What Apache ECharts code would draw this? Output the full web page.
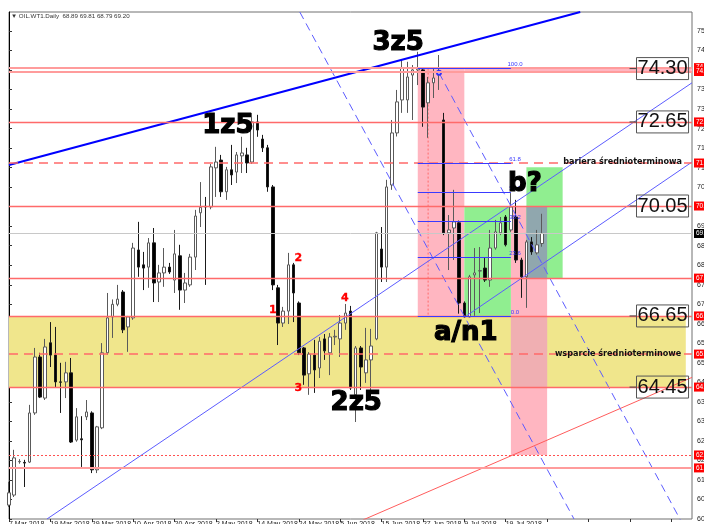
<!DOCTYPE html>
<html>
<head>
<meta charset="utf-8">
<title>OIL.WT1 Daily</title>
<script src="https://cdn.jsdelivr.net/npm/echarts@6/dist/echarts.min.js"></script>
<style>
  html, body { margin: 0; padding: 0; background: #fff; }
  #chart { width: 704px; height: 524px; }
</style>
</head>
<body>
<div id="chart"></div>
<script>
// swiece dzienne [open, high, low, close], indeks = numer swiecy
var ohlc = [
  [60.80, 61.52, 60.74, 61.18], [61.11, 62.51, 61.05, 62.26], [62.14, 62.22, 62.08, 62.15], [62.12, 62.20, 61.36, 62.10],
  [62.13, 63.90, 62.10, 63.65], [63.65, 65.66, 63.59, 65.38], [65.38, 65.51, 64.11, 64.14], [64.11, 65.94, 64.05, 65.69],
  [65.82, 66.46, 65.07, 65.44], [65.44, 66.31, 64.45, 64.61], [64.61, 65.20, 63.65, 64.60], [64.61, 65.23, 64.11, 64.89],
  [64.89, 65.35, 62.72, 62.75], [62.81, 63.80, 62.76, 63.53], [62.85, 63.55, 61.98, 62.82], [63.53, 64.05, 63.43, 63.68],
  [63.65, 63.70, 61.79, 61.89], [61.89, 63.25, 61.79, 63.22], [63.19, 65.81, 63.15, 65.51], [65.51, 67.36, 65.45, 66.59],
  [66.62, 67.16, 65.97, 67.01], [67.01, 67.61, 66.95, 67.17], [67.39, 67.45, 66.12, 66.22], [66.31, 66.65, 65.54, 66.62],
  [66.59, 68.91, 66.53, 68.75], [68.69, 69.56, 67.86, 68.16], [68.23, 68.63, 67.45, 68.13], [68.16, 69.06, 67.52, 68.91],
  [68.91, 69.37, 67.08, 67.67], [67.70, 68.23, 67.08, 67.98], [67.98, 68.75, 67.55, 68.16], [68.16, 68.29, 67.95, 68.01],
  [67.76, 69.31, 67.36, 68.57], [68.51, 68.85, 66.84, 67.45], [67.45, 67.98, 67.05, 67.67], [67.61, 68.57, 67.55, 68.47],
  [68.47, 69.93, 68.07, 69.74], [69.84, 70.79, 69.40, 70.01], [70.04, 70.33, 67.61, 70.02], [70.02, 71.35, 69.95, 71.26],
  [71.23, 71.88, 70.33, 71.41], [71.47, 71.63, 70.33, 70.49], [70.49, 71.26, 70.24, 71.17], [71.17, 71.94, 70.70, 71.01],
  [71.10, 71.72, 70.76, 71.63], [71.60, 72.19, 71.07, 71.69], [71.63, 71.85, 71.07, 71.38], [71.41, 72.93, 71.35, 72.65],
  [72.65, 72.87, 72.19, 72.40], [72.12, 72.25, 71.72, 71.85], [71.85, 71.94, 70.49, 70.64], [70.64, 70.70, 67.45, 67.61],
  [67.52, 67.61, 65.75, 66.43], [66.43, 66.93, 66.31, 66.80], [66.80, 68.60, 66.40, 68.23], [68.23, 68.29, 66.46, 67.36],
  [67.05, 67.10, 65.44, 65.51], [65.66, 65.69, 64.52, 64.82], [64.86, 65.53, 64.21, 65.47], [65.44, 65.91, 64.27, 64.98],
  [65.04, 66.00, 64.73, 65.87], [65.94, 66.09, 65.29, 65.57], [65.51, 66.12, 64.82, 66.00], [66.00, 66.22, 65.75, 66.02],
  [65.94, 66.68, 65.38, 66.43], [66.43, 67.02, 66.22, 66.74], [66.80, 66.96, 64.36, 64.42], [64.21, 65.72, 63.37, 65.66],
  [65.66, 65.72, 64.36, 65.07], [64.89, 66.28, 64.58, 65.29], [65.29, 66.25, 64.27, 65.72], [65.94, 69.25, 65.90, 69.22],
  [68.72, 69.40, 67.70, 68.16], [68.16, 70.86, 67.70, 70.64], [70.70, 72.71, 70.55, 72.31], [72.31, 73.64, 72.20, 73.27],
  [73.33, 74.57, 72.93, 74.32], [73.33, 74.51, 72.93, 74.04], [74.10, 74.41, 72.71, 74.26], [74.26, 74.82, 73.79, 74.32],
  [74.26, 74.32, 72.50, 73.11], [73.24, 74.04, 72.16, 73.86], [73.86, 74.32, 73.39, 74.01], [74.10, 74.72, 73.64, 74.20],
  [72.71, 72.93, 69.15, 69.22], [69.22, 69.77, 68.07, 69.31], [69.37, 70.55, 68.38, 69.56], [69.53, 69.60, 66.72, 67.05],
  [67.05, 67.10, 66.60, 66.62], [66.62, 67.92, 66.60, 67.86], [67.92, 68.75, 66.62, 67.98], [68.04, 68.78, 66.74, 68.05],
  [68.13, 68.44, 67.70, 67.76], [67.76, 69.31, 67.55, 68.75], [68.75, 69.62, 68.70, 69.25], [69.22, 69.71, 69.15, 69.53],
  [69.71, 69.77, 68.80, 68.85], [69.31, 70.45, 69.25, 70.02], [69.71, 70.24, 68.29, 68.38], [68.38, 68.45, 67.21, 67.86],
  [67.86, 69.00, 66.90, 68.94], [68.94, 69.09, 68.54, 68.63], [68.60, 69.31, 68.55, 68.85], [68.89, 69.81, 68.79, 69.20]
];

// daty pod osia (co 8 swiec)
var xTickLabels = ['7 Mar 2018', '19 Mar 2018', '29 Mar 2018', '10 Apr 2018', '20 Apr 2018', '2 May 2018', '14 May 2018',
  '24 May 2018', '5 Jun 2018', '15 Jun 2018', '27 Jun 2018', '9 Jul 2018', '19 Jul 2018'];

// poziomy
var keyLevels = [74.33, 74.21, 72.65, 70.05, 67.82, 66.65, 64.45, 61.95];
var midTermLevels = [71.38, 65.47];
var targetLevel = 62.35;
var bidPrice = 69.20;
var boxLevels = [74.30, 72.65, 70.05, 66.65, 64.45];

// fibo
var fibNames = ['0.0', '23.6', '38.2', '50.0', '61.8', '100.0'];
var fibPrices = [66.65, 68.46, 69.57, 70.48, 71.38, 74.30];
var fibSpan = [79, 97];

// prostokaty [i0, i1, cena gora, cena dol]
var supportZone = [0, 130.8, 66.65, 64.45];
var pinkZones = [[79, 88, 74.30, 66.65], [97, 104, 70.05, 62.35], [88, 132, 74.33, 74.21]];
var greenZones = [[88, 97, 70.05, 66.65], [100, 107, 71.25, 67.82]];

// linie trendu [[i, cena], [i, cena]]
var trendTop = [[0, 71.32], [110.4, 76.05]];
var channelLow = [[7.34, 60.37], [132, 73.86]];
var channelUp = [[88.1, 66.62], [132, 71.41]];
var projRed = [[68.4, 60.34], [132, 64.75]];
var fallA = [[56.2, 76.05], [109.2, 60.37]];
var fallB = [[83.1, 74.17], [130.2, 60.21]];
var fibVertical = [[81, 74.30], [81, 66.65]];

// opisy [i, cena, tekst]
var waveMarks = [[42.3, 72.53, '1z5'], [75.2, 75.09, '3z5'], [67.1, 63.96, '2z5'], [88.3, 66.12, 'a/n1'], [99.7, 70.73, 'b?']];
var subWaveMarks = [[51.0, 66.83, '1'], [55.9, 68.44, '2'], [55.9, 64.42, '3'], [64.9, 67.21, '4']];
var levelNotes = [[107.1, 71.41, 'bariera średnioterminowa'], [105.5, 65.47, 'wsparcie średnioterminowe']];
var boxAt = 120.6;

var candleData = ohlc.map(function (d, i) { return [i, d[0], d[3], d[2], d[1]]; });

function area(z, color) {
  return [{ coord: [z[0], z[2]], itemStyle: { color: color } }, { coord: [z[1], z[3]] }];
}
// czesc wspolna dwoch prostokatow (MT4 rysuje ja jak XOR kolorow)
function overlap(a, b) {
  var i0 = Math.max(a[0], b[0]), i1 = Math.min(a[1], b[1]);
  var top = Math.min(a[2], b[2]), bot = Math.max(a[3], b[3]);
  return (i1 > i0 && top > bot) ? [i0, i1, top, bot] : null;
}

var areas = [area(supportZone, '#f0e68c')];
pinkZones.forEach(function (z) { areas.push(area(z, '#ffb6c1')); });
greenZones.forEach(function (z) { areas.push(area(z, '#90ee90')); });
pinkZones.forEach(function (p) {
  greenZones.forEach(function (g) { var o = overlap(p, g); if (o) areas.push(area(o, '#90a7ae')); });
  var y = overlap(p, supportZone); if (y) areas.push(area(y, '#f0afb2'));
});

function hLine(v, style, labelBg) {
  return {
    yAxis: v, lineStyle: style,
    label: { show: true, position: 'end', distance: 2, formatter: v.toFixed(2), color: '#fff',
      backgroundColor: labelBg, fontSize: 6.5, padding: [1, 2], fontFamily: 'Liberation Sans' }
  };
}
var hLines = [];
keyLevels.forEach(function (v) {
  var soft = v > 74 || v < 62.2;
  hLines.push(hLine(v, { color: soft ? '#ff9c9c' : '#ff6a6a', width: soft ? 2 : 1.3, type: 'solid' }, '#ff0000'));
});
midTermLevels.forEach(function (v) { hLines.push(hLine(v, { color: '#ff6a6a', width: 1.5, type: [9, 6] }, '#ff0000')); });
hLines.push(hLine(targetLevel, { color: '#ff5050', width: 1, type: [2, 2] }, '#ff0000'));
hLines.push(hLine(bidPrice, { color: '#c8c8c8', width: 1, type: 'solid' }, '#000000'));

var fibLines = fibPrices.map(function (p) {
  return [{ coord: [fibSpan[0], p] }, { coord: [fibSpan[1], p] }];
});
var fibLabels = fibPrices.map(function (p, k) { return { value: [fibSpan[1] + 0.8, p], name: fibNames[k] }; });

function trend(pts, color, width, type, z) {
  return { type: 'line', data: pts, symbol: 'none', silent: true, z: z || 4, animation: false,
    lineStyle: { color: color, width: width, type: type } };
}
var fallBSeries = trend(fallB, '#5c5cff', 1, [8, 5]);
fallBSeries.showSymbol = true;
fallBSeries.data = [{ value: fallB[0], symbol: 'emptyCircle', symbolSize: 4, itemStyle: { color: '#3030ff' } }, fallB[1]];

function textSeries(rows, label, z) {
  return { type: 'scatter', symbolSize: 0, silent: true, z: z || 6, animation: false,
    itemStyle: { opacity: 1 },
    data: rows.map(function (r) { return { value: [r[0], r[1]], name: r[2] }; }),
    label: Object.assign({ show: true, formatter: '{b}' }, label) };
}

var chart = echarts.init(document.getElementById('chart'));
chart.setOption({
  animation: false,
  title: {
    text: '\u25BC OIL.WT1.Daily  68.89 69.81 68.79 69.20',
    left: 11, top: 13, padding: 0,
    textStyle: { fontSize: 6.2, fontWeight: 'normal', color: '#333', fontFamily: 'Liberation Sans' }
  },
  grid: { left: 9, right: 12, top: 12, bottom: 5, show: true, borderColor: '#707070', borderWidth: 1,
    outerBoundsMode: 'none', containLabel: false },
  xAxis: {
    type: 'value', min: 0, max: 132, interval: 8,
    splitLine: { show: false },
    axisLine: { show: false },
    axisTick: { show: true, length: 3, lineStyle: { color: '#333' } },
    axisLabel: {
      margin: 2, fontSize: 7, color: '#222', align: 'left', fontFamily: 'Liberation Sans',
      showMaxLabel: false,
      formatter: function (v) { return xTickLabels[v / 8] || ''; }
    }
  },
  yAxis: {
    type: 'value', position: 'right', min: 60.37, max: 76.05, interval: 0.6037,
    splitLine: { show: false },
    axisLine: { show: true, lineStyle: { color: '#000' } },
    axisTick: { show: true, length: 3, lineStyle: { color: '#333' } },
    axisLabel: {
      margin: 5, fontSize: 7, color: '#222', fontFamily: 'Liberation Sans', showMaxLabel: false,
      formatter: function (v) { return v.toFixed(2); }
    }
  },
  series: [
    {
      // tlo: strefy
      type: 'line', data: [], z: 1, silent: true,
      markArea: { silent: true, data: areas }
    },
    {
      // poziomy cenowe
      type: 'line', data: [], z: 2, silent: true,
      markLine: { silent: true, symbol: ['none', 'none'], data: hLines }
    },
    {
      type: 'candlestick', z: 3, silent: true, barWidth: 3,
      encode: { x: 0, y: [1, 2, 3, 4] },
      data: candleData,
      itemStyle: { color: '#ffffff', borderColor: '#5a5a5a', color0: '#000000', borderColor0: '#1a1a1a', borderWidth: 1 }
    },
    {
      // fibo
      type: 'line', data: [], z: 4, silent: true,
      markLine: { silent: true, symbol: ['none', 'none'], label: { show: false },
        lineStyle: { color: '#3a3aff', width: 1, type: 'solid' }, data: fibLines }
    },
    {
      type: 'scatter', symbolSize: 0, z: 5, silent: true, data: fibLabels, itemStyle: { opacity: 1 },
      label: { show: true, position: 'top', distance: 1, formatter: '{b}', fontSize: 6, color: '#3a3aff',
        fontFamily: 'Liberation Sans' }
    },
    trend(trendTop, '#0000ff', 2, 'solid'),
    trend(channelLow, '#5c5cff', 1, 'solid'),
    trend(channelUp, '#5c5cff', 1, 'solid'),
    trend(projRed, '#ff5c5c', 1, 'solid'),
    trend(fallA, '#5c5cff', 1, [8, 5]),
    fallBSeries,
    trend(fibVertical, '#ff6a6a', 1, [2, 2], 2),
    textSeries(waveMarks, { position: 'inside', fontSize: 26, fontWeight: 'bold', color: '#000',
      textBorderColor: '#000', textBorderWidth: 1.2, fontFamily: 'DejaVu Sans' }),
    textSeries(subWaveMarks, { position: 'inside', fontSize: 11, fontWeight: 'bold', color: '#ff0000',
      textBorderColor: '#ff0000', textBorderWidth: 0.3, fontFamily: 'DejaVu Sans' }),
    textSeries(levelNotes, { position: 'right', distance: 0, fontSize: 8.1, fontWeight: 'bold', color: '#111',
      textBorderWidth: 0, fontFamily: 'DejaVu Sans' }),
    {
      // ramki z cenami
      type: 'scatter', symbol: 'rect', symbolSize: [7, 1], z: 6, silent: true,
      itemStyle: { color: '#444', opacity: 1 },
      data: boxLevels.map(function (v) { return [boxAt, v]; }),
      label: {
        show: true, position: 'right', distance: 0,
        formatter: function (p) { return p.value[1].toFixed(2); },
        fontSize: 20, color: '#111', fontFamily: 'Liberation Sans',
        borderColor: '#555', borderWidth: 1, padding: [2, 1, 0, 1]
      }
    }
  ]
});
</script>
</body>
</html>
